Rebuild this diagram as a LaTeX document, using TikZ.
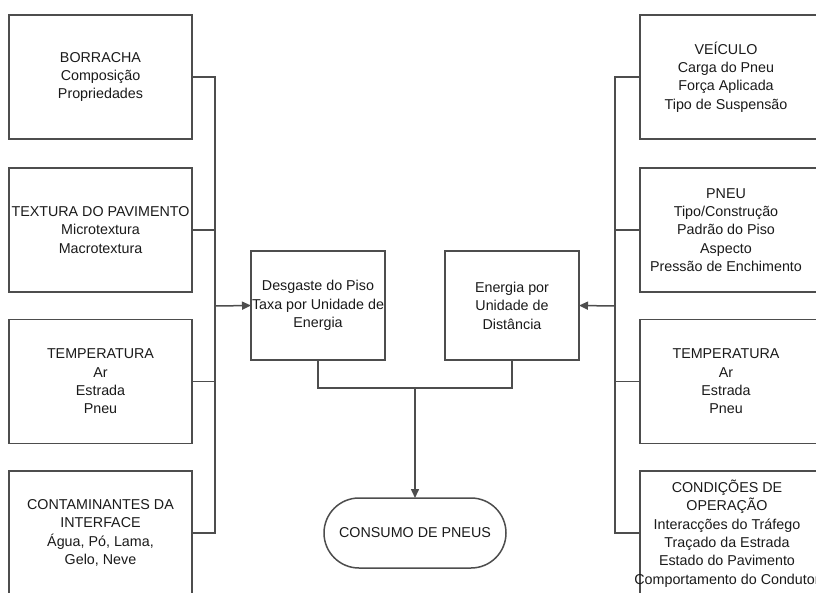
\documentclass[tikz,border=0pt]{standalone}
\usepackage{fontspec}
\setmainfont{Liberation Sans}
\usetikzlibrary{arrows.meta,positioning}
\definecolor{linec}{HTML}{4D4D4D}
\definecolor{textc}{HTML}{1A1A1A}
\tikzset{
  txt/.style={align=center, text=textc, font=\fontsize{14.3}{18.4}\selectfont, inner sep=0pt, outer sep=0pt},
  sidebox/.style={txt, draw=linec, line width=1.5pt, minimum width=183pt, minimum height=124pt},
  frame/.style={draw=linec, line width=1.5pt, minimum width=183pt, minimum height=124pt, inner sep=0pt, outer sep=0pt},
  midbox/.style={txt, draw=linec, line width=1.5pt, minimum width=134pt, minimum height=109pt},
  endbox/.style={txt, draw=linec, line width=1.5pt, minimum width=182pt, minimum height=70pt, rounded corners=35pt},
  conn/.style={draw=linec, line width=1.5pt},
  arr/.style={conn, -{Triangle[length=9pt,width=8pt]}}
}
\begin{document}
\begin{tikzpicture}[x=1pt,y=-1pt]
\useasboundingbox (0,0) rectangle (816,592);
\clip (0,0) rectangle (816,592);
\fill[white] (0,0) rectangle (816,592);
% left column
\node[sidebox] (l1) at (100.5,77) {BORRACHA\\Composição\\Propriedades};
\node[sidebox] (l2) at (100.5,230) {TEXTURA DO PAVIMENTO\\Microtextura\\Macrotextura};
\node[sidebox] (l3) at (100.5,381.5) {TEMPERATURA\\Ar\\Estrada\\Pneu};
\node[sidebox] (l4) at (100.5,533) {CONTAMINANTES DA\\INTERFACE\\Água, Pó, Lama,\\Gelo, Neve};
% right column (frames run past the right edge)
\node[frame] (r1) at (731.5,77) {};
\node[frame] (r2) at (731.5,230) {};
\node[frame] (r3) at (731.5,381.5) {};
\node[frame] (r4) at (731.5,533) {};
\node[txt] (t1) at (726,77) {VEÍCULO\\Carga do Pneu\\Força Aplicada\\Tipo de Suspensão};
\node[txt] (t2) at (726,230) {PNEU\\Tipo/Construção\\Padrão do Piso\\Aspecto\\Pressão de Enchimento};
\node[txt] (t3) at (726,381.5) {TEMPERATURA\\Ar\\Estrada\\Pneu};
\node[txt] (t4) at (727,533.5) {CONDIÇÕES DE\\OPERAÇÃO\\Interacções do Tráfego\\Traçado da Estrada\\Estado do Pavimento\\Comportamento do Condutor};
% middle
\node[midbox] (d) at (318,305.5) {Desgaste do Piso\\Taxa por Unidade de\\Energia};
\node[midbox] (e) at (512,305.5) {Energia por\\Unidade de\\Distância};
\node[endbox] (c) at (415,533) {CONSUMO DE PNEUS};
% connectors
\coordinate (vL) at (215,306);
\coordinate (vR) at (615,306);
\coordinate (j) at (415,388);
\draw[conn] (l1.east) -- (l1.east -| vL) -- (l4.east -| vL) -- (l4.east);
\draw[conn] (l2.east) -- (l2.east -| vL);
\draw[conn] (l3.east) -- (l3.east -| vL);
\draw[arr] (vL) -- (d.west);
\draw[conn] (r1.west) -- (r1.west -| vR) -- (r4.west -| vR) -- (r4.west);
\draw[conn] (r2.west) -- (r2.west -| vR);
\draw[conn] (r3.west) -- (r3.west -| vR);
\draw[arr] (vR) -- (e.east);
\draw[conn] (d.south) |- (j) -| (e.south);
\draw[arr] (j) -- (c.north);
\end{tikzpicture}
\end{document}
